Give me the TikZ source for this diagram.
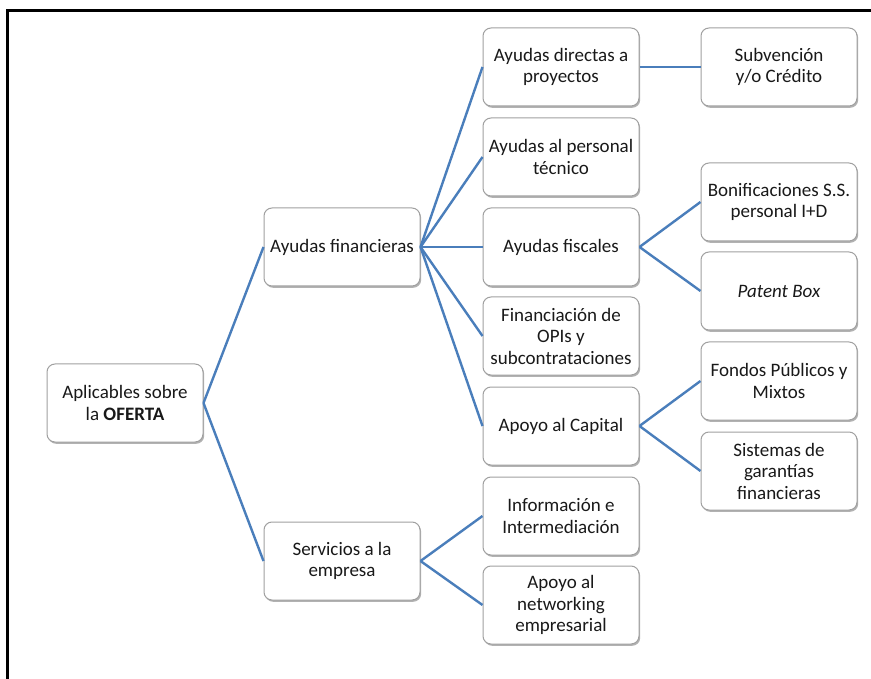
\documentclass[tikz,border=0pt]{standalone}
\usepackage{fontspec}
\setmainfont{Carlito}
\usetikzlibrary{shadows}
\definecolor{linkblue}{RGB}{74,126,187}
\definecolor{boxedge}{RGB}{160,160,160}
\begin{document}
\begin{tikzpicture}[x=1pt,y=-1pt,
  item/.style={draw=boxedge, line width=1pt, rounded corners=8pt, fill=white,
    minimum width=156pt, minimum height=78pt, align=center, inner sep=2pt,
    font=\fontsize{19}{21.5}\selectfont, text=black!90,
    drop shadow={shadow xshift=1.2pt, shadow yshift=-1.8pt, fill=black, opacity=0.3}},
  link/.style={draw=linkblue, line width=2.4pt}]
\useasboundingbox (0,0) rectangle (871,679);
\fill[white] (0,0) rectangle (871,679);
% outer frame (top and left edges visible)
\draw[line width=2.6pt, black] (7.5,679) -- (7.5,10.5) -- (871,10.5);

% root
\node[item] (root) at (125,403) {Aplicables sobre\\la \textbf{OFERTA}};
% second level
\node[item] (fin) at (342,247) {Ayudas financieras};
\node[item] (serv) at (342,561) {Servicios a la\\empresa};
% third level
\node[item] (dir) at (561,67) {Ayudas directas a\\proyectos};
\node[item] (pers) at (561,157) {Ayudas al personal\\técnico};
\node[item] (fisc) at (561,247) {Ayudas fiscales};
\node[item] (opis) at (561,336) {Financiación de\\OPIs y\\subcontrataciones};
\node[item] (cap) at (561,426) {Apoyo al Capital};
\node[item] (info) at (561,516) {Información e\\Intermediación};
\node[item] (net) at (561,605) {Apoyo al\\networking\\empresarial};
% fourth level
\node[item] (subv) at (779,67) {Subvención\\y/o Crédito};
\node[item] (bon) at (779,202) {Bonificaciones S.S.\\personal I+D};
\node[item] (pat) at (779,291) {\textit{Patent Box}};
\node[item] (fond) at (779,381) {Fondos Públicos y\\Mixtos};
\node[item] (gar) at (779,471) {Sistemas de\\garantías\\financieras};

% connectors, parent right side to child left side
\foreach \a/\b in {root/fin, root/serv,
  fin/dir, fin/pers, fin/fisc, fin/opis, fin/cap,
  serv/info, serv/net,
  dir/subv, fisc/bon, fisc/pat, cap/fond, cap/gar}
  \draw[link] (\a.east) -- (\b.west);
\end{tikzpicture}
\end{document}
